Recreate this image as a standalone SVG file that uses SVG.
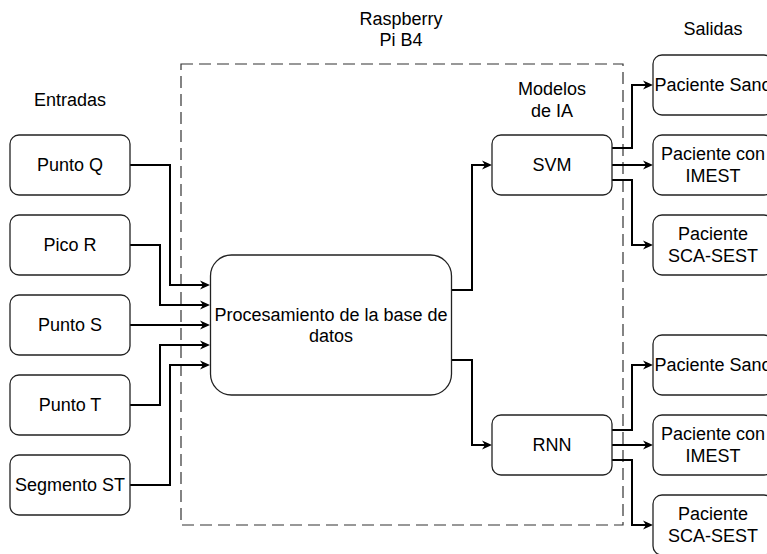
<svg xmlns="http://www.w3.org/2000/svg" width="767" height="554" viewBox="0 0 767 554">
<style>
.box{fill:#fff;stroke:#222;stroke-width:1.3}
.t{font-family:"Liberation Sans",Arial,sans-serif;font-size:18px;fill:#000;text-anchor:middle}
.c{fill:none;stroke:#000;stroke-width:2;marker-end:url(#arr)}
</style>
<defs>
<marker id="arr" markerUnits="userSpaceOnUse" viewBox="0 0 10 10" refX="3" refY="5" markerWidth="10" markerHeight="10" orient="auto">
<path d="M0,0.5 L10,5 L0,9.5 L3,5 z" fill="#000"/>
</marker>
</defs>
<rect x="181" y="64" width="442" height="461" fill="none" stroke="#333" stroke-width="1.2" stroke-dasharray="12 6"/>
<text class="t" x="401" y="25">Raspberry</text>
<text class="t" x="401" y="46">Pi B4</text>
<text class="t" x="552" y="95">Modelos</text>
<text class="t" x="552" y="117">de IA</text>
<text class="t" x="70" y="106">Entradas</text>
<text class="t" x="713" y="35">Salidas</text>
<g id="connectors">
<polyline class="c" points="130,165 170,165 170,285 203,285"/>
<polyline class="c" points="130,245 160,245 160,305 203,305"/>
<polyline class="c" points="130,325 203,325"/>
<polyline class="c" points="130,405 160,405 160,345 203,345"/>
<polyline class="c" points="130,485 170,485 170,365 203,365"/>
<polyline class="c" points="452,290 472,290 472,165 485,165"/>
<polyline class="c" points="452,360 472,360 472,445 485,445"/>
<polyline class="c" points="612,148 632,148 632,85 646,85"/>
<polyline class="c" points="612,165 646,165"/>
<polyline class="c" points="612,180 632,180 632,245 646,245"/>
<polyline class="c" points="612,430 632,430 632,365 646,365"/>
<polyline class="c" points="612,445 646,445"/>
<polyline class="c" points="612,460 632,460 632,525 646,525"/>
</g>
<g id="punto-q"><rect class="box" x="10" y="135" width="120" height="60" rx="9"/><text class="t" x="70" y="171">Punto Q</text></g>
<g id="pico-r"><rect class="box" x="10" y="215" width="120" height="60" rx="9"/><text class="t" x="70" y="251">Pico R</text></g>
<g id="punto-s"><rect class="box" x="10" y="295" width="120" height="60" rx="9"/><text class="t" x="70" y="331">Punto S</text></g>
<g id="punto-t"><rect class="box" x="10" y="375" width="120" height="60" rx="9"/><text class="t" x="70" y="411">Punto T</text></g>
<g id="segmento-st"><rect class="box" x="10" y="455" width="120" height="60" rx="9"/><text class="t" x="70" y="491">Segmento ST</text></g>
<g id="procesamiento"><rect class="box" x="210.5" y="255" width="241" height="140" rx="21"/><text class="t" x="331" y="321">Procesamiento de la base de</text><text class="t" x="331" y="342">datos</text></g>
<g id="svm"><rect class="box" x="492" y="135" width="120" height="60" rx="9"/><text class="t" x="552" y="171">SVM</text></g>
<g id="rnn"><rect class="box" x="492" y="415" width="120" height="60" rx="9"/><text class="t" x="552" y="451">RNN</text></g>
<g id="svm-sano"><rect class="box" x="653" y="55" width="120" height="60" rx="9"/><text class="t" x="713" y="91">Paciente Sano</text></g>
<g id="svm-imest"><rect class="box" x="653" y="135" width="120" height="60" rx="9"/><text class="t" x="713" y="160">Paciente con</text><text class="t" x="713" y="182">IMEST</text></g>
<g id="svm-sca"><rect class="box" x="653" y="215" width="120" height="60" rx="9"/><text class="t" x="713" y="240">Paciente</text><text class="t" x="713" y="262">SCA-SEST</text></g>
<g id="rnn-sano"><rect class="box" x="653" y="335" width="120" height="60" rx="9"/><text class="t" x="713" y="371">Paciente Sano</text></g>
<g id="rnn-imest"><rect class="box" x="653" y="415" width="120" height="60" rx="9"/><text class="t" x="713" y="440">Paciente con</text><text class="t" x="713" y="462">IMEST</text></g>
<g id="rnn-sca"><rect class="box" x="653" y="495" width="120" height="60" rx="9"/><text class="t" x="713" y="520">Paciente</text><text class="t" x="713" y="542">SCA-SEST</text></g>
</svg>
